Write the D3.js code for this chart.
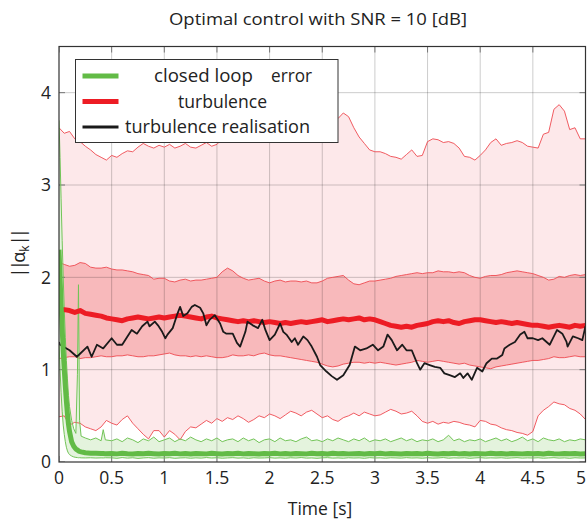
<!DOCTYPE html>
<html><head><meta charset="utf-8">
<script src="https://cdn.jsdelivr.net/npm/d3@7"></script>
<style>body{margin:0;background:#fff}svg{display:block}text{font-family:"Open Sans",sans-serif;fill:#222}</style>
</head><body><svg id="c" width="588" height="522"></svg>
<script>
// ---------- data ----------
const xTicks = [0,0.5,1,1.5,2,2.5,3,3.5,4,4.5,5];
const xTickLabels = ["0","0.5","1","1.5","2","2.5","3","3.5","4","4.5","5"];
const yTicks = [0,1,2,3,4];
const yTickLabels = ["0","1","2","3","4"];
const legendLabels = ["closed loop","error","turbulence","turbulence realisation"];

// turbulence envelopes, sampled every 0.05 s (0 … 5 s)
const rOutU = [3.62,3.56,3.58,3.50,3.47,3.42,3.38,3.33,3.30,3.27,
 3.32,3.30,3.34,3.37,3.36,3.41,3.45,3.42,3.40,3.43,
 3.41,3.44,3.40,3.42,3.45,3.41,3.40,3.43,3.46,3.42,
 3.44,3.50,3.52,3.48,3.55,3.50,3.53,3.56,3.50,3.52,
 3.55,3.50,3.53,3.58,3.55,3.60,3.57,3.62,3.60,3.65,
 3.62,3.68,3.70,3.72,3.78,3.74,3.62,3.52,3.45,3.38,
 3.36,3.36,3.34,3.31,3.30,3.28,3.33,3.38,3.31,3.32,
 3.47,3.50,3.49,3.46,3.47,3.45,3.40,3.31,3.30,3.27,
 3.32,3.38,3.46,3.50,3.43,3.45,3.46,3.48,3.46,3.42,
 3.41,3.40,3.55,3.57,3.82,3.87,3.80,3.60,3.62,3.50,
 3.50];
const rOutL = [0.49,0.50,0.40,0.43,0.42,0.38,0.36,0.34,0.38,0.45,
 0.42,0.40,0.46,0.50,0.42,0.36,0.30,0.25,0.34,0.34,
 0.27,0.34,0.30,0.24,0.33,0.38,0.37,0.41,0.45,0.42,
 0.47,0.44,0.48,0.46,0.50,0.47,0.43,0.46,0.50,0.48,
 0.52,0.50,0.47,0.51,0.55,0.53,0.50,0.54,0.56,0.52,
 0.48,0.50,0.46,0.44,0.48,0.50,0.53,0.50,0.54,0.52,
 0.50,0.51,0.54,0.57,0.55,0.52,0.53,0.55,0.50,0.44,
 0.42,0.44,0.41,0.43,0.42,0.44,0.43,0.41,0.40,0.38,
 0.45,0.44,0.41,0.40,0.37,0.35,0.34,0.32,0.31,0.29,
 0.33,0.50,0.56,0.60,0.65,0.63,0.62,0.58,0.56,0.52,
 0.46];
const rInU = [2.16,2.14,2.12,2.13,2.16,2.15,2.11,2.10,2.10,2.11,
 2.09,2.08,2.08,2.07,2.06,2.04,2.03,2.02,1.98,1.99,
 1.99,1.96,1.95,1.97,1.98,1.96,1.97,1.97,1.98,1.99,
 2.00,2.06,2.10,2.07,2.02,1.99,1.97,1.98,1.99,1.96,
 1.94,1.96,1.97,1.95,1.96,1.96,1.95,1.96,1.94,1.94,
 1.96,1.99,2.00,2.01,2.02,1.97,1.93,1.92,1.94,1.96,
 1.96,1.97,1.98,1.99,2.01,2.02,2.03,2.04,2.05,2.04,
 2.05,2.05,2.07,2.06,2.06,2.05,2.06,2.05,2.02,2.00,
 1.99,2.01,2.02,2.02,2.03,2.05,2.06,2.07,2.06,2.05,
 2.04,2.02,2.00,1.97,1.98,2.01,2.00,2.02,2.03,2.02,
 2.03];
const rInL = [1.12,1.13,1.14,1.14,1.12,1.13,1.13,1.14,1.15,1.14,
 1.14,1.15,1.15,1.16,1.15,1.14,1.14,1.15,1.15,1.16,
 1.17,1.18,1.16,1.15,1.15,1.14,1.15,1.14,1.15,1.14,
 1.13,1.13,1.14,1.16,1.15,1.15,1.16,1.15,1.17,1.18,
 1.16,1.15,1.15,1.14,1.13,1.12,1.11,1.10,1.09,1.08,
 1.06,1.04,1.03,1.04,1.06,1.07,1.08,1.08,1.07,1.08,
 1.07,1.08,1.07,1.06,1.05,1.06,1.07,1.08,1.10,1.09,
 1.08,1.09,1.10,1.09,1.08,1.07,1.06,1.07,1.05,1.04,
 1.03,1.02,1.01,1.03,1.04,1.05,1.06,1.07,1.08,1.09,
 1.10,1.10,1.11,1.12,1.14,1.13,1.13,1.14,1.15,1.14,
 1.14];
const rMean = [1.63,1.65,1.64,1.62,1.64,1.61,1.60,1.59,1.58,1.56,
 1.55,1.54,1.53,1.55,1.56,1.57,1.56,1.55,1.56,1.57,
 1.56,1.57,1.58,1.59,1.58,1.57,1.56,1.55,1.57,1.58,
 1.56,1.55,1.54,1.53,1.52,1.53,1.52,1.53,1.52,1.51,
 1.52,1.51,1.50,1.51,1.50,1.51,1.52,1.51,1.52,1.53,
 1.54,1.52,1.53,1.54,1.55,1.54,1.55,1.56,1.54,1.55,
 1.54,1.52,1.50,1.48,1.47,1.46,1.47,1.46,1.48,1.49,
 1.50,1.52,1.53,1.52,1.53,1.51,1.50,1.52,1.53,1.54,
 1.54,1.53,1.52,1.51,1.52,1.51,1.50,1.51,1.50,1.49,
 1.48,1.48,1.47,1.46,1.47,1.48,1.47,1.46,1.48,1.47,
 1.48];

// turbulence realisation
const bT = [0,0.01,0.10,0.17,0.27,0.31,0.36,0.42,0.50,0.55,0.60,0.65,0.69,0.74,0.79,0.84,0.86,0.91,0.94,0.98,
 1.01,1.03,1.08,1.12,1.15,1.18,1.22,1.26,1.29,1.34,1.37,1.40,1.43,1.48,1.53,1.56,1.59,1.65,1.69,1.72,
 1.77,1.79,1.84,1.89,1.93,1.96,2.00,2.05,2.10,2.13,2.16,2.21,2.24,2.27,2.32,2.36,2.40,2.45,2.48,2.54,
 2.59,2.64,2.70,2.76,2.81,2.86,2.92,2.98,3.03,3.08,3.12,3.16,3.21,3.26,3.30,3.35,3.40,3.43,3.47,3.52,
 3.57,3.62,3.66,3.71,3.76,3.81,3.84,3.88,3.92,3.97,4.02,4.06,4.11,4.16,4.21,4.23,4.28,4.33,4.38,4.42,
 4.45,4.50,4.55,4.59,4.66,4.69,4.73,4.78,4.82,4.83,4.88,4.93,4.97,5.00];
const bV = [1.30,1.27,1.21,1.14,1.25,1.14,1.27,1.23,1.34,1.27,1.27,1.36,1.43,1.39,1.47,1.52,1.47,1.52,1.48,1.41,
 1.34,1.38,1.45,1.59,1.68,1.58,1.61,1.68,1.70,1.67,1.61,1.48,1.54,1.59,1.50,1.41,1.39,1.39,1.29,1.25,
 1.41,1.52,1.48,1.45,1.54,1.43,1.32,1.38,1.50,1.41,1.38,1.30,1.34,1.27,1.36,1.32,1.25,1.14,1.05,0.98,
 0.93,0.89,0.94,1.05,1.25,1.21,1.23,1.27,1.21,1.25,1.38,1.32,1.21,1.27,1.21,1.21,1.07,1.00,1.07,1.05,
 1.03,1.02,0.96,0.94,0.92,0.96,0.91,0.96,0.89,1.02,0.98,1.07,1.12,1.12,1.16,1.23,1.27,1.30,1.38,1.41,
 1.34,1.34,1.32,1.34,1.27,1.34,1.43,1.39,1.30,1.25,1.36,1.34,1.32,1.47];

// closed loop error: fine start, then every 0.05 s from 0.5 s
const gTStart = [0,0.01,0.02,0.03,0.04,0.05,0.06,0.07,0.08,0.09,0.1,0.12,0.14,0.16,0.175,0.185,0.195,0.21,0.25,0.3,0.35,0.4,0.42,0.44];
const gU = [3.70,3.30,2.85,2.40,2.00,1.65,1.35,1.10,0.90,0.72,0.60,0.45,0.36,0.31,0.95,1.92,0.45,0.28,0.26,0.24,0.26,0.23,0.35,0.24,
 0.23,0.25,0.22,0.26,0.24,0.21,0.25,0.23,0.27,0.22,
 0.24,0.26,0.22,0.25,0.23,0.27,0.24,0.22,0.25,0.23,
 0.26,0.22,0.24,0.25,0.22,0.26,0.23,0.25,0.21,0.24,
 0.25,0.22,0.26,0.23,0.24,0.22,0.25,0.27,0.23,0.24,
 0.22,0.25,0.23,0.26,0.24,0.22,0.25,0.23,0.26,0.22,
 0.24,0.23,0.25,0.22,0.24,0.26,0.23,0.25,0.22,0.24,
 0.23,0.25,0.22,0.24,0.29,0.23,0.25,0.22,0.24,0.23,
 0.25,0.22,0.24,0.26,0.23,0.25,0.22,0.24,0.27,0.23,
 0.25,0.22,0.26,0.24,0.23,0.25,0.22,0.24,0.23,0.25,
 0.24];
const gM = [2.30,2.00,1.70,1.45,1.20,1.00,0.82,0.66,0.52,0.41,0.33,0.22,0.17,0.14,0.13,0.12,0.115,0.11,0.10,0.096,0.094,0.092,0.091,0.09,
 0.092,0.088,0.095,0.090,0.087,0.093,0.089,0.094,0.090,0.086,
 0.092,0.089,0.095,0.088,0.091,0.087,0.093,0.090,0.088,0.094,
 0.090,0.087,0.092,0.089,0.095,0.088,0.091,0.090,0.086,0.093,
 0.089,0.094,0.088,0.091,0.087,0.093,0.090,0.088,0.095,0.089,
 0.091,0.087,0.094,0.089,0.092,0.088,0.090,0.093,0.087,0.091,
 0.089,0.094,0.088,0.092,0.090,0.087,0.093,0.089,0.091,0.088,
 0.094,0.090,0.087,0.092,0.089,0.095,0.088,0.091,0.087,0.093,
 0.090,0.088,0.094,0.089,0.091,0.087,0.092,0.090,0.088,0.093,
 0.089,0.091,0.087,0.094,0.090,0.088,0.092,0.089,0.091,0.087,
 0.090];
const gL = [1.30,1.00,0.75,0.55,0.40,0.30,0.22,0.16,0.12,0.095,0.08,0.065,0.055,0.05,0.048,0.046,0.047,0.045,0.044,0.046,0.043,0.045,0.044,0.046,
 0.045,0.040,0.048,0.042,0.046,0.039,0.044,0.047,0.041,0.045,
 0.043,0.047,0.040,0.044,0.046,0.041,0.045,0.042,0.048,0.043,
 0.046,0.041,0.044,0.047,0.042,0.045,0.040,0.046,0.043,0.044,
 0.047,0.042,0.045,0.041,0.046,0.043,0.048,0.042,0.044,0.040,
 0.045,0.047,0.042,0.044,0.041,0.046,0.043,0.045,0.040,0.047,
 0.043,0.045,0.041,0.046,0.044,0.042,0.047,0.043,0.045,0.041,
 0.046,0.042,0.044,0.048,0.041,0.045,0.043,0.046,0.040,0.044,
 0.047,0.042,0.045,0.043,0.046,0.041,0.044,0.047,0.042,0.045,
 0.043,0.046,0.041,0.044,0.047,0.042,0.045,0.040,0.046,0.043,
 0.044];

// ---------- drawing ----------
const tRed = d3.range(101).map(i => i * 0.05);
const gT = gTStart.concat(d3.range(10, 101).map(i => i * 0.05));

const svg = d3.select("#c");
const L = 59, R = 585.5, T = 46.5, B = 462;
const x = d3.scaleLinear().domain([0, 5]).range([L, R]);
const y = d3.scaleLinear().domain([0, 4.5]).range([B, T]);

svg.append("defs").append("clipPath").attr("id", "clip")
  .append("rect").attr("x", L).attr("y", T).attr("width", R - L).attr("height", B - T);
const g = svg.append("g").attr("clip-path", "url(#clip)");

const band = (lo, hi, ts) => d3.area().x((d, i) => x(ts[i])).y0((d, i) => y(lo[i])).y1((d, i) => y(hi[i]))(lo);
const path = (vs, ts) => d3.line().x((d, i) => x(ts[i])).y(d => y(d))(vs);

g.append("path").attr("d", band(rOutL, rOutU, tRed)).attr("fill", "#fde8ea");
g.append("path").attr("d", band(rInL, rInU, tRed)).attr("fill", "#f8b9bb");
g.append("path").attr("d", band(gL, gU, gT)).attr("fill", "#e4f3dd");

// grid
const grid = g.append("g").attr("stroke", "rgba(0,0,0,0.2)").attr("stroke-width", 1);
xTicks.slice(1, -1).forEach(v => grid.append("line").attr("x1", x(v)).attr("x2", x(v)).attr("y1", T).attr("y2", B));
yTicks.slice(1).forEach(v => grid.append("line").attr("x1", L).attr("x2", R).attr("y1", y(v)).attr("y2", y(v)));
const tk = g.append("g").attr("stroke", "#777").attr("stroke-width", 1);
xTicks.forEach(v => {
  tk.append("line").attr("x1", x(v)).attr("x2", x(v)).attr("y1", B).attr("y2", B - 6);
  tk.append("line").attr("x1", x(v)).attr("x2", x(v)).attr("y1", T).attr("y2", T + 6);
});
yTicks.forEach(v => {
  tk.append("line").attr("x1", L).attr("x2", L + 6).attr("y1", y(v)).attr("y2", y(v));
  tk.append("line").attr("x1", R).attr("x2", R - 6).attr("y1", y(v)).attr("y2", y(v));
});

// thin envelope lines
[rOutU, rOutL, rInU, rInL].forEach(s =>
  g.append("path").attr("d", path(s, tRed)).attr("fill", "none").attr("stroke", "#ee4a50").attr("stroke-width", 0.9));
[gU, gL].forEach(s =>
  g.append("path").attr("d", path(s, gT)).attr("fill", "none").attr("stroke", "#72c457").attr("stroke-width", 1));

g.append("path").attr("d", path(rMean, tRed)).attr("fill", "none").attr("stroke", "#ed1c24").attr("stroke-width", 5).attr("stroke-linejoin", "round");
g.append("path").attr("d", path(bV, bT)).attr("fill", "none").attr("stroke", "#1a1a1a").attr("stroke-width", 1.8).attr("stroke-linejoin", "round");
g.append("path").attr("d", path(gM, gT)).attr("fill", "none").attr("stroke", "#62bb46").attr("stroke-width", 5).attr("stroke-linejoin", "round");

// frame
svg.append("rect").attr("x", L).attr("y", T).attr("width", R - L).attr("height", B - T)
  .attr("fill", "none").attr("stroke", "#333").attr("stroke-width", 1.2);

// tick labels
xTicks.forEach((v, i) => svg.append("text").attr("x", Math.min(x(v), 581)).attr("y", 484).attr("text-anchor", "middle")
  .attr("font-size", 17.5).text(xTickLabels[i]));
yTicks.forEach((v, i) => svg.append("text").attr("x", 51).attr("y", y(v)).attr("dy", "0.36em").attr("text-anchor", "end")
  .attr("font-size", 17.5).text(yTickLabels[i]));

// title & axis labels
svg.append("text").attr("x", 318).attr("y", 25).attr("text-anchor", "middle").attr("font-size", 17)
  .attr("textLength", 298).attr("lengthAdjust", "spacingAndGlyphs").text("Optimal control with SNR = 10 [dB]");
svg.append("text").attr("x", 320).attr("y", 515).attr("text-anchor", "middle").attr("font-size", 17.5)
  .text("Time [s]");
const yl = svg.append("text").attr("transform", "translate(25,254) rotate(-90)").attr("text-anchor", "middle").attr("font-size", 18);
yl.append("tspan").attr("letter-spacing", "-2.5").text("||");
yl.append("tspan").text("α");
yl.append("tspan").attr("font-size", 12).attr("dy", 4).text("k");
yl.append("tspan").attr("dy", -4).attr("letter-spacing", "-2.5").text("||");

// legend
const lg = svg.append("g");
lg.append("rect").attr("x", 75.5).attr("y", 59.5).attr("width", 262.5).attr("height", 83)
  .attr("fill", "#fff").attr("stroke", "#333").attr("stroke-width", 1);
const rows = [
  {y: 76, c: "#62bb46", w: 5},
  {y: 101.5, c: "#ed1c24", w: 5},
  {y: 127, c: "#1a1a1a", w: 3}
];
rows.forEach(r => lg.append("line").attr("x1", 82.5).attr("x2", 118.5).attr("y1", r.y).attr("y2", r.y)
  .attr("stroke", r.c).attr("stroke-width", r.w));
const lt = (tx, ty, s, len) => lg.append("text").attr("x", tx).attr("y", ty).attr("dy", "0.35em").attr("font-size", 18)
  .attr("textLength", len).attr("lengthAdjust", "spacingAndGlyphs").text(s);
lt(154, 76, legendLabels[0], 99);
lt(271, 76, legendLabels[1], 41);
lt(178, 101.5, legendLabels[2], 89);
lt(125, 127, legendLabels[3], 185);
</script></body></html>
